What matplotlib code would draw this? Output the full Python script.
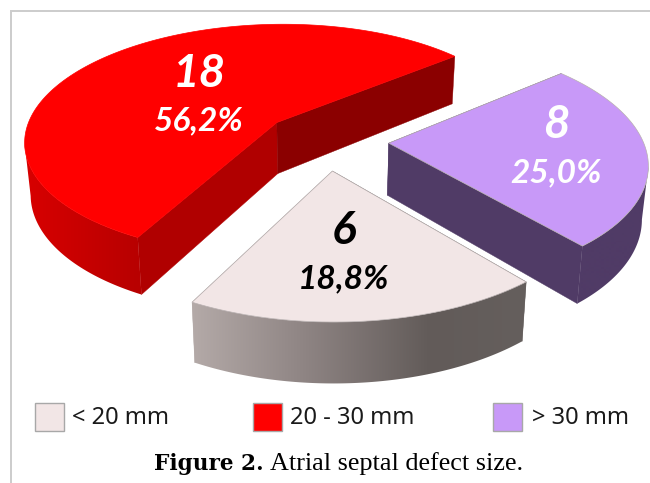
import numpy as np
import matplotlib
matplotlib.use("Agg")
import matplotlib.pyplot as plt
from matplotlib.colors import to_rgb
from matplotlib.patches import Rectangle, Polygon

# Atrial septal defect size: number of patients per category
categories = ["< 20 mm", "20 - 30 mm", "> 30 mm"]
counts = [6, 18, 8]
percent_labels = ["18,8%", "56,2%", "25,0%"]
caption_bold = "Figure 2."
caption_rest = " Atrial septal defect size."

top_colors = ["#f2e6e6", "#ff0000", "#c899f8"]
label_colors = ["#000000", "#ffffff", "#ffffff"]

# Perspective projection of the tilted, exploded pie
CX, CY = 325.25, 140.56
RX, RY = 254.15, 118.06
PERSP = 0.1504
DEPTH = 52.0
BOTTOM_SHRINK = 0.98
EXPLODE = 0.25
START_DEG = 140.0   # clockwise from north, where the first category begins


def project(u, v):
    """Map pie-plane coordinates (v pointing away from the viewer) to pixels."""
    s = 1.0 / (1.0 + PERSP * v)
    return CX + RX * u * s, CY - RY * v * s, s


def lower(x, y, s):
    """Drop top-surface points onto the bottom rim of the slab."""
    return CX + (x - CX) * BOTTOM_SHRINK, y + DEPTH * s ** 0.8


# Colours of the outer rim, shaded from left to right
rim_stops = [
    [(192, "#b4aaa8"), (300, "#908685"), (430, "#625b59"), (526, "#655f5d")],
    [(25, "#d80000"), (137, "#b80000")],
    [(380, "#503b66"), (650, "#503b66")],
]
# Colours of the two straight cut faces: (entering edge, leaving edge)
cut_colors = [
    ("#655f5d", "#b4aaa8"),
    ("#b00000", "#8b0000"),
    ("#503b66", "#503b66"),
]

fig = plt.figure(figsize=(6.5, 4.83), dpi=100, facecolor="white")
ax = fig.add_axes([0, 0, 1, 1])
ax.axis("off")

# Outer frame of the chart area
ax.plot([11, 11, 650], [483, 10.5, 10.5], color="#cccccc", lw=1.4, zorder=1,
        solid_joinstyle="miter")

total = sum(counts)
sweeps = [c / total * 2 * np.pi for c in counts]
starts = np.radians(START_DEG) + np.cumsum([0] + sweeps[:-1])

# Back-most slice first so nearer slabs overlap correctly
for i in [1, 2, 0]:
    a0, sweep = starts[i], sweeps[i]
    mid = a0 + sweep / 2
    du, dv = EXPLODE * np.sin(mid), EXPLODE * np.cos(mid)
    th = np.linspace(a0, a0 + sweep, 360)
    x, y, s = project(du + np.sin(th), dv + np.cos(th))
    xb, yb = lower(x, y, s)
    ax0, ay0, as0 = project(du, dv)
    axb, ayb = lower(ax0, ay0, as0)

    # Straight cut faces running to the pie centre
    ax.add_patch(Polygon([(ax0, ay0), (x[0], y[0]), (xb[0], yb[0]), (axb, ayb)],
                         facecolor=cut_colors[i][0], edgecolor=cut_colors[i][0],
                         lw=0.3, zorder=2 + i * 0.1))
    ax.add_patch(Polygon([(ax0, ay0), (x[-1], y[-1]), (xb[-1], yb[-1]), (axb, ayb)],
                         facecolor=cut_colors[i][1], edgecolor=cut_colors[i][1],
                         lw=0.3, zorder=2 + i * 0.1))

    # Rim of the slab: only the arc facing the viewer, where x falls along the sweep.
    # A horizontal colour ramp is clipped to its outline.
    front = np.gradient(x) < 0
    stops = rim_stops[i]
    gx = np.linspace(0, 650, 651)
    grad = np.stack([np.interp(gx, [p[0] for p in stops], [to_rgb(p[1])[c] for p in stops])
                     for c in range(3)], axis=-1)[None, :, :]
    rim = Polygon(np.c_[np.r_[x[front], xb[front][::-1]], np.r_[y[front], yb[front][::-1]]],
                  closed=True, transform=ax.transData, facecolor="none", edgecolor="none")
    ax.add_patch(rim)
    img = ax.imshow(grad, extent=(0, 650, 483, 0), aspect="auto", zorder=2.5 + i * 0.1,
                    interpolation="bilinear")
    img.set_clip_path(rim)

    # Top surface
    edge = "#ff0000" if i == 1 else "#b8b0b0"
    ax.fill(np.r_[ax0, x], np.r_[ay0, y], facecolor=top_colors[i],
            edgecolor=edge, lw=0.5, zorder=3 + i * 0.1)

ax.set_xlim(0, 650)
ax.set_ylim(483, 0)

# Value and percentage labels on each slice
label_font = ["Lato", "DejaVu Sans"]
count_pos = [(344, 231), (199, 74), (556, 125)]
pct_pos = [(344, 279), (199, 121), (556, 173)]
for i in range(3):
    ax.text(*count_pos[i], str(counts[i]), family=label_font, style="italic", weight="bold",
            fontsize=33, color=label_colors[i], ha="center", va="center", zorder=6)
    ax.text(*pct_pos[i], percent_labels[i], family=label_font, style="italic", weight="bold",
            fontsize=24, color=label_colors[i], ha="center", va="center", zorder=6)

# Legend row
swatch_x = [35, 253, 493]
text_x = [72, 290, 532]
for i in range(3):
    ax.add_patch(Rectangle((swatch_x[i], 402.5), 28.5, 28.5, facecolor=top_colors[i],
                           edgecolor="#a8a8a8", lw=1.0, zorder=5))
    ax.text(text_x[i], 418, categories[i], family="Noto Sans", fontsize=17,
            color="#1a1a1a", ha="left", va="center", zorder=6)

# Caption, bold lead-in followed by regular text
renderer = fig.canvas.get_renderer()
bold = ax.text(154, 464, caption_bold, family="DejaVu Serif", weight="bold", fontsize=15.6,
               color="black", ha="left", va="center", zorder=6)
bb = bold.get_window_extent(renderer)
ax.text(bb.x1 + 1, 464, caption_rest, family="Liberation Serif", fontsize=18.8,
        color="black", ha="left", va="center", zorder=6)

fig.savefig("out.png", dpi=100, facecolor="white")
